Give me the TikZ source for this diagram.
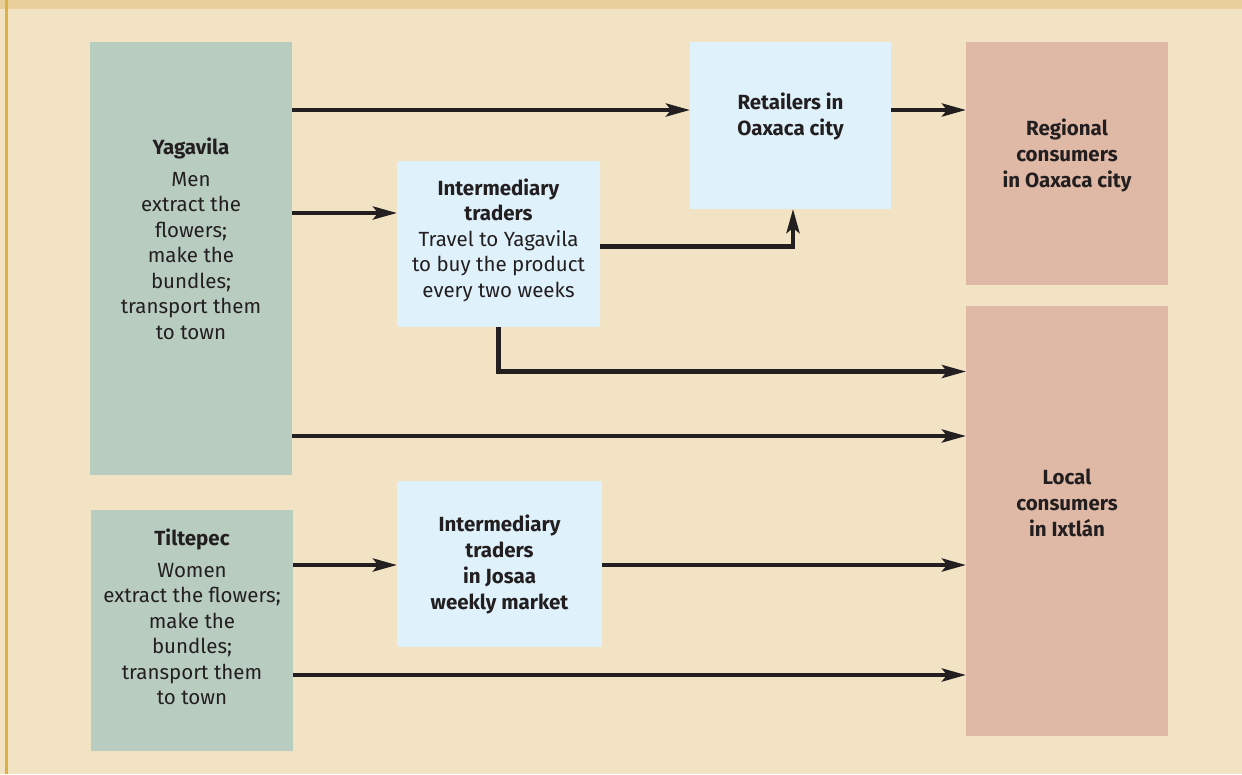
\documentclass[tikz,border=0pt]{standalone}
\usepackage{fontspec}
\setmainfont{Fira Sans}
\usetikzlibrary{arrows.meta}
\definecolor{bg}{HTML}{F2E3C4}
\definecolor{band}{HTML}{E8CF9B}
\definecolor{gold}{HTML}{DDB240}
\definecolor{grn}{HTML}{B8CCC0}
\definecolor{lblue}{HTML}{DFF1FB}
\definecolor{pink}{HTML}{DFB9A6}
\definecolor{ink}{HTML}{231F20}
\begin{document}
\begin{tikzpicture}[x=1pt,y=-1pt,
  boxbase/.style={inner sep=0pt, outer sep=0pt, draw=none},
  greenbox/.style={boxbase, fill=grn},
  bluebox/.style={boxbase, fill=lblue},
  pinkbox/.style={boxbase, fill=pink},
  txt/.style={align=center, text=ink, inner sep=0pt, font=\fontsize{20.5}{25.5}\selectfont},
  btxt/.style={txt, font=\fontsize{20.5}{26}\selectfont\bfseries},
  arr/.style={draw=ink, line width=4.2pt, -{Stealth[length=24pt,width=13pt,inset=5pt]}}]
\useasboundingbox (0,0) rectangle (1242,774);
\fill[bg] (0,0) rectangle (1242,774);
\fill[band] (0,0) rectangle (1242,9);
\fill[gold] (5,0) rectangle (7.5,774);

% boxes
\node[greenbox, minimum width=202pt, minimum height=433pt] (yag) at (191,258.5) {};
\node[greenbox, minimum width=202pt, minimum height=241pt] (til) at (192,630.5) {};
\node[bluebox, minimum width=203pt, minimum height=166pt] (int1) at (498.5,244) {};
\node[bluebox, minimum width=205pt, minimum height=166pt] (int2) at (499.5,564) {};
\node[bluebox, minimum width=201pt, minimum height=167pt] (ret) at (790.5,125.5) {};
\node[pinkbox, minimum width=202pt, minimum height=243pt] (reg) at (1067,163.5) {};
\node[pinkbox, minimum width=202pt, minimum height=430pt] (loc) at (1067,521) {};

% texts
\node[txt] (yagt) at (191,239) {\textbf{Yagavila}\\[6pt]Men\\extract the\\flowers;\\make the\\bundles;\\transport them\\to town};
\node[txt] (tilt) at (192,617) {\textbf{Tiltepec}\\[6pt]Women\\extract the flowers;\\make the\\bundles;\\transport them\\to town};
\node[txt] (int1t) at (498.5,240) {\textbf{Intermediary}\\\textbf{traders}\\Travel to Yagavila\\to buy the product\\every two weeks};
\node[btxt] (int2t) at (499.5,564) {Intermediary\\traders\\in Josaa\\weekly market};
\node[btxt] (rett) at (790.5,116) {Retailers in\\Oaxaca city};
\node[btxt] (regt) at (1067,155) {Regional\\consumers\\in Oaxaca city};
\node[btxt] (loct) at (1067,503) {Local\\consumers\\in Ixtlán};

% connectors
\draw[arr] (yag.east |- 0,110) -- (ret.west |- 0,110);
\draw[arr] (ret.east |- 0,110) -- (reg.west |- 0,110);
\draw[arr] (yag.east |- 0,213) -- (int1.west |- 0,213);
\draw[arr] (int1.east |- 0,246.5) -| (ret.south -| 793,0);
\draw[arr] (int1.south) |- (loc.west |- 0,371.5);
\draw[arr] (yag.east |- 0,436) -- (loc.west |- 0,436);
\draw[arr] (til.east |- 0,565) -- (int2.west |- 0,565);
\draw[arr] (int2.east |- 0,565) -- (loc.west |- 0,565);
\draw[arr] (til.east |- 0,675) -- (loc.west |- 0,675);
\end{tikzpicture}
\end{document}
